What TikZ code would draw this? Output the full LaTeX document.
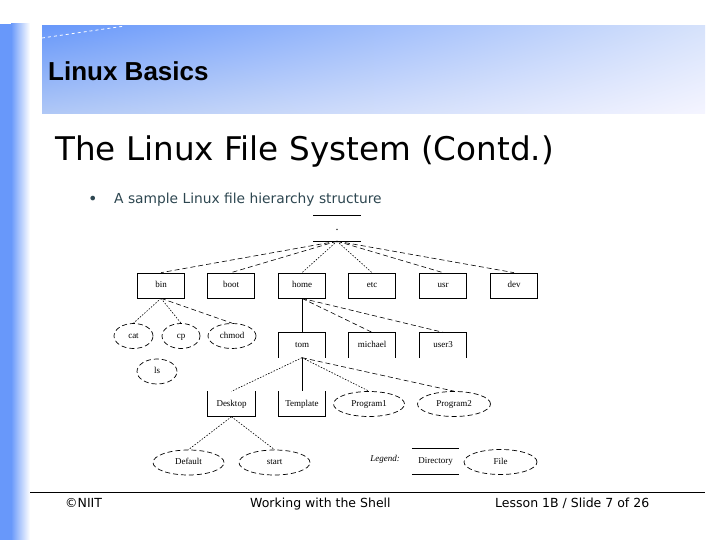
\documentclass[tikz,border=0pt]{standalone}
\usepackage{fontspec}
\setmainfont{Liberation Serif}
\newfontfamily\slidefont{DejaVu Sans}
\newfontfamily\headfont{Liberation Sans}
\usetikzlibrary{shapes.geometric,shadings}
\definecolor{myblue}{RGB}{104,152,250}
\definecolor{mymidblue}{RGB}{176,200,246}
\definecolor{mypaleblue}{RGB}{214,226,251}
\definecolor{myteal}{RGB}{45,70,80}
\newcommand*{\mylabelstyle}{\fontsize{9}{10}\selectfont}
\newcommand*{\myfootstyle}{\slidefont\fontsize{12.5}{14}\selectfont}
\tikzset{
   dirbox/.style  = {draw, line width=0.7pt, minimum width=47pt,
                     minimum height=25pt, inner sep=0pt, font=\mylabelstyle,
                     text height=1.6ex, text depth=0.6ex},
   opendir/.style = {minimum width=47pt, minimum height=25pt,
                     inner sep=0pt, font=\mylabelstyle,
                     text height=1.6ex, text depth=0.6ex},
   filenode/.style = {ellipse, draw, line width=0.7pt,
                      dash pattern=on 5pt off 3pt, inner sep=0pt,
                      minimum height=25pt, font=\mylabelstyle,
                      text height=1.6ex, text depth=0.6ex},
   link/.style  = {line width=0.6pt, dash pattern=on 5pt off 3pt},
   steep/.style = {line width=0.6pt, dash pattern=on 1.5pt off 1.5pt},
   plain/.style = {line width=0.7pt}
}

\begin{document}
\begin{tikzpicture}[x=1pt, y=-1pt]
   \useasboundingbox (0,0) rectangle (720,540);

   % slide frame
   \fill[myblue] (0,24) rectangle (11,540);
   \shade[left color=myblue, right color=white] (11,24) rectangle (30,540);
   \shade[upper left=myblue, upper right=mypaleblue,
          lower left=mymidblue, lower right=white!96!blue]
      (42,26) rectangle (705,114);
   \draw[white, line width=0.8pt, dashed] (42,38) -- (125,26);
   \node[font=\headfont\bfseries\fontsize{26}{28}\selectfont, anchor=base west,
         inner sep=0pt] (head) at (48,81) {Linux Basics};
   \node[font=\slidefont\fontsize{32.6}{36}\selectfont, anchor=base west,
         inner sep=0pt] (title) at (55,161) {The Linux File System (Contd.)};
   \node[text=myteal, font=\slidefont\fontsize{16}{16}\selectfont,
         anchor=base west, inner sep=0pt] (bullet) at (88,205) {•};
   \node[text=myteal, font=\slidefont\fontsize{13.8}{15}\selectfont,
         anchor=base west, inner sep=0pt] (point) at (114,204)
      {A sample Linux file hierarchy structure};

   % tree
   \node[opendir, font=\fontsize{12}{12}\selectfont] (root) at (337,228.5) {.};
   \draw[plain] (root.north west) -- (root.north east);
   \draw[plain] (root.south west) -- (root.south east);

   \node[dirbox] (bin)  at (161,285.5) {bin};
   \node[dirbox] (boot) at (231,285.5) {boot};
   \node[dirbox] (home) at (302,285.5) {home};
   \node[dirbox] (etc)  at (372,285.5) {etc};
   \node[dirbox] (usr)  at (443,285.5) {usr};
   \node[dirbox] (dev)  at (514,285.5) {dev};

   \foreach \d in {bin,boot,usr,dev}
      \draw[link] (root.south) -- (\d.north);
   \foreach \d in {home,etc}
      \draw[steep] (root.south) -- (\d.north);

   \node[filenode, minimum width=39pt] (cat)   at (133.5,336) {cat};
   \node[filenode, minimum width=38pt] (cp)    at (181,336)   {cp};
   \node[filenode, minimum width=48pt] (chmod) at (232,336)   {chmod};
   \node[filenode, minimum width=40pt] (ls)    at (157,371.5) {ls};
   \draw[steep] (bin.south) -- (cat.north);
   \draw[steep] (bin.south) -- (cp.north);
   \draw[link]  (bin.south) -- (chmod.north);

   \foreach \n/\x in {tom/302,michael/372,user3/443}{
      \node[opendir] (\n) at (\x,345) {\n};
      \draw[plain] (\n.south west) -- (\n.north west)
                -- (\n.north east) -- (\n.south east);
   }
   \draw[plain] (home.south) -- (tom.north);
   \draw[link]  (home.south) -- (michael.north);
   \draw[link]  (home.south) -- (user3.north);

   \foreach \n/\x in {Desktop/231.5,Template/302}{
      \node[opendir] (\n) at (\x,404) {\n};
      \draw[plain] (\n.north west) -- (\n.south west)
                -- (\n.south east) -- (\n.north east);
   }
   \node[filenode, minimum width=71pt] (prog1) at (369,404) {Program1};
   \node[filenode, minimum width=73pt] (prog2) at (454,404) {Program2};
   \draw[steep] (tom.south) -- (Desktop.north);
   \draw[plain] (tom.south) -- (Template.north);
   \draw[steep] (tom.south) -- (prog1.north);
   \draw[link]  (tom.south) -- (prog2.north);

   \node[filenode, minimum width=71pt] (default) at (188.5,462.5) {Default};
   \node[filenode, minimum width=71pt] (start)   at (274.5,462.5) {start};
   \draw[steep] (Desktop.south) -- (default.north);
   \draw[steep] (Desktop.south) -- (start.north);

   % legend
   \node[font=\mylabelstyle\itshape] (legend) at (385,459) {Legend:};
   \node[opendir] (legdir) at (435.5,461.5) {Directory};
   \draw[plain] (legdir.north west) -- (legdir.north east);
   \draw[plain] (legdir.south west) -- (legdir.south east);
   \node[filenode, minimum width=73pt] (legfile) at (500.5,462) {File};

   % footer
   \draw[line width=1pt] (30,492) -- (705,492);
   \node[font=\myfootstyle, anchor=base west, inner sep=0pt]
      (copy) at (65,507) {©NIIT};
   \node[font=\myfootstyle, anchor=base west, inner sep=0pt]
      (course) at (250,507) {Working with the Shell};
   \node[font=\myfootstyle, anchor=base west, inner sep=0pt]
      (slide) at (495,507) {Lesson 1B / Slide 7 of 26};
\end{tikzpicture}
\end{document}
